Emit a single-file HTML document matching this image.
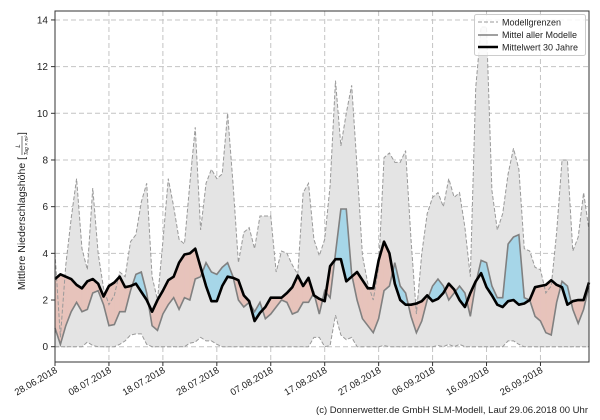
<!DOCTYPE html>
<html><head><meta charset="utf-8"><style>
body{margin:0;background:#fff;}
svg{display:block;font-family:"Liberation Sans","DejaVu Sans",sans-serif;}
</style></head><body>
<svg id="s" width="600" height="420" xmlns="http://www.w3.org/2000/svg"></svg>
<script>
const up=[4,0.4,3.5,5.5,7.2,4.2,3.3,6.8,4,2.5,1.8,2.2,3.2,3,4.5,4.8,6.2,7,3,2,4.5,7.2,6,4.6,4.4,7,9.4,5,7,7.6,7.2,7.4,10,7,3.6,4.9,5.1,4.2,5.6,5.6,5.6,3.2,4.1,4,3.5,3.1,6.6,7.0,4.6,3.9,4.6,6.9,11.4,8.6,10,11.2,7.7,3.9,2.7,2,3.4,8.1,8.3,7.9,7.9,8.4,4.6,1.4,4,5.7,6.4,6.6,6,7.2,6.4,6.6,5.1,3,11.1,13.7,13.7,6.7,5,5.7,7.4,8.5,7.6,4.2,4.1,3.4,3.3,2.3,2.6,4.9,8,8,4.1,4.7,6.6,5];
const lo=new Array(100).fill(0);
Object.entries({6:.2,7:.05,12:.1,13:.25,14:.5,15:.55,16:.55,17:.1,25:.15,26:.2,27:.4,28:.25,29:.25,30:.1,48:.4,49:.4,51:.05,52:1.35,53:.5,54:.3,55:.4,61:.05,71:.05,73:.1,75:.1,84:.25,85:.25,86:.1}).forEach(([k,v])=>lo[k]=v);
const mn=[0.8,0.1,0.9,1.5,1.9,1.5,1.6,2.3,2.4,1.8,0.9,0.95,1.5,1.5,2.4,3.1,3.2,2.3,0.9,0.7,1.4,1.8,2.1,1.6,2.1,2.0,2.9,3.0,3.6,3.2,3.1,3.4,3.6,3.0,2.0,1.7,1.9,1.5,1.9,1.2,1.4,1.7,2.0,1.9,1.4,1.5,1.9,1.9,2.3,1.4,2.4,2.1,4.0,5.9,5.9,3.1,2.0,1.2,0.9,0.6,1.2,2.4,2.6,3.6,2.6,2.3,1.3,0.6,1.1,2.0,2.6,2.9,2.6,2.0,2.3,2.6,2.3,1.3,2.7,3.7,3.6,2.6,2.1,2.1,4.4,4.7,4.8,2.1,2.0,1.3,1.1,0.6,0.5,1.9,2.8,2.6,1.6,1.0,1.6,2.6];
const cl=[2.9,3.1,3.0,2.9,2.65,2.5,2.8,2.9,2.7,2.15,2.6,2.75,3.0,2.55,2.6,2.7,2.35,2.0,1.5,2.0,2.4,2.85,3.0,3.6,3.95,4.0,4.2,3.4,2.6,1.95,1.95,2.6,3.0,2.95,2.85,2.2,1.95,1.1,1.45,1.7,2.1,2.1,2.1,2.3,2.55,3.05,2.6,2.95,2.2,2.05,1.95,3.45,3.75,3.75,2.8,3.0,3.2,2.85,2.5,2.5,3.7,4.5,4.0,2.7,2.0,1.8,1.8,1.85,1.95,2.2,1.95,2.05,2.3,2.7,2.45,2.0,1.7,2.3,2.8,3.15,2.55,2.2,1.8,1.7,1.95,2.0,1.8,1.85,2.0,2.55,2.6,2.65,2.85,2.65,2.55,1.8,1.95,2.0,2.0,2.75];
const N=100;
const X=d=>55+(589-55)*d/99, Y=v=>346.7-v*23.34;
let h='';
for(let v=0;v<=14;v+=2){h+=`<line x1="55" y1="${Y(v)}" x2="589" y2="${Y(v)}" stroke="#c4c4c4" stroke-dasharray="5,3"/>`;}
const dates=['28.06.2018','08.07.2018','18.07.2018','28.07.2018','07.08.2018','17.08.2018','27.08.2018','06.09.2018','16.09.2018','26.09.2018'];
dates.forEach((t,i)=>{const x=55+i*10*5.394;h+=`<line x1="${x}" y1="11" x2="${x}" y2="362" stroke="#c4c4c4" stroke-dasharray="5,3"/>`;});
let p=[];for(let i=0;i<N;i++)p.push(X(i)+','+Y(up[i]));for(let i=N-1;i>=0;i--)p.push(X(i)+','+Y(lo[i]));
h+=`<polygon points="${p.join(' ')}" fill="#e4e4e4"/>`;
for(let i=0;i<N-1;i++){
 const a1=mn[i]-cl[i],a2=mn[i+1]-cl[i+1];
 const col=v=>v>0?'#a6d6e8':'#e7c3bb';
 if(a1*a2>=0){const c=(a1+a2)>0?col(1):col(-1);
  h+=`<polygon points="${X(i)},${Y(mn[i])} ${X(i+1)},${Y(mn[i+1])} ${X(i+1)},${Y(cl[i+1])} ${X(i)},${Y(cl[i])}" fill="${c}" stroke="${c}" stroke-width="0.5"/>`;}
 else{const t=a1/(a1-a2),xc=X(i+t),yc=Y(mn[i]+t*(mn[i+1]-mn[i]));
  h+=`<polygon points="${X(i)},${Y(mn[i])} ${xc},${yc} ${X(i)},${Y(cl[i])}" fill="${col(a1)}"/>`;
  h+=`<polygon points="${xc},${yc} ${X(i+1)},${Y(mn[i+1])} ${X(i+1)},${Y(cl[i+1])}" fill="${col(a2)}"/>`;}
}
const pl=(arr)=>arr.map((v,i)=>X(i)+','+Y(v)).join(' ');
h+=`<polyline points="${pl(up)}" fill="none" stroke="#999" stroke-width="1" stroke-dasharray="4,2"/>`;
h+=`<polyline points="${pl(lo)}" fill="none" stroke="#999" stroke-width="1" stroke-dasharray="4,2"/>`;
h+=`<polyline points="${pl(mn)}" fill="none" stroke="#808080" stroke-width="1.6"/>`;
h+=`<polyline points="${pl(cl)}" fill="none" stroke="#000" stroke-width="2.6" stroke-linejoin="round"/>`;
h+=`<rect x="55" y="11" width="534" height="351" fill="none" stroke="#333" stroke-width="1"/>`;
for(let v=0;v<=14;v+=2){h+=`<line x1="51" y1="${Y(v)}" x2="55" y2="${Y(v)}" stroke="#333"/><text x="48" y="${Y(v)+3.5}" font-size="10" text-anchor="end" fill="#222">${v}</text>`;}
dates.forEach((t,i)=>{const x=55+i*10*5.394;h+=`<line x1="${x}" y1="362" x2="${x}" y2="366" stroke="#333"/><text transform="translate(${x+3},${372}) rotate(-30)" font-size="9.5" text-anchor="end" fill="#222">${t}</text>`;});
h+=`<g transform="translate(25,195) rotate(-90)"><text x="38" y="0" font-size="10.5" text-anchor="end" fill="#222">Mittlere Niederschlagshöhe [</text><text x="49" y="-5" font-size="6" text-anchor="middle" font-style="italic" fill="#222">L</text><line x1="40" y1="-3" x2="59" y2="-3" stroke="#222" stroke-width="0.6"/><text x="49.5" y="3" font-size="5" text-anchor="middle" font-style="italic" fill="#222">Tag × m²</text><text x="60" y="0" font-size="10.5" fill="#222">]</text></g>`;
h+=`<rect x="474.5" y="14.5" width="111" height="41" rx="2" fill="#fff" fill-opacity="0.85" stroke="#ccc"/>`;
h+=`<line x1="478" y1="22" x2="498" y2="22" stroke="#999" stroke-dasharray="4,2"/><text x="502" y="25.5" font-size="9" fill="#222">Modellgrenzen</text>`;
h+=`<line x1="478" y1="35" x2="498" y2="35" stroke="#808080" stroke-width="1.6"/><text x="502" y="38" font-size="9" fill="#222">Mittel aller Modelle</text>`;
h+=`<line x1="478" y1="47" x2="498" y2="47" stroke="#000" stroke-width="2.6"/><text x="502" y="50.5" font-size="9" fill="#222">Mittelwert 30 Jahre</text>`;
h+=`<text x="588" y="413" font-size="9.5" text-anchor="end" fill="#222">(c) Donnerwetter.de GmbH SLM-Modell, Lauf 29.06.2018 00 Uhr</text>`;
document.getElementById('s').innerHTML=h;
</script>
</body></html>
